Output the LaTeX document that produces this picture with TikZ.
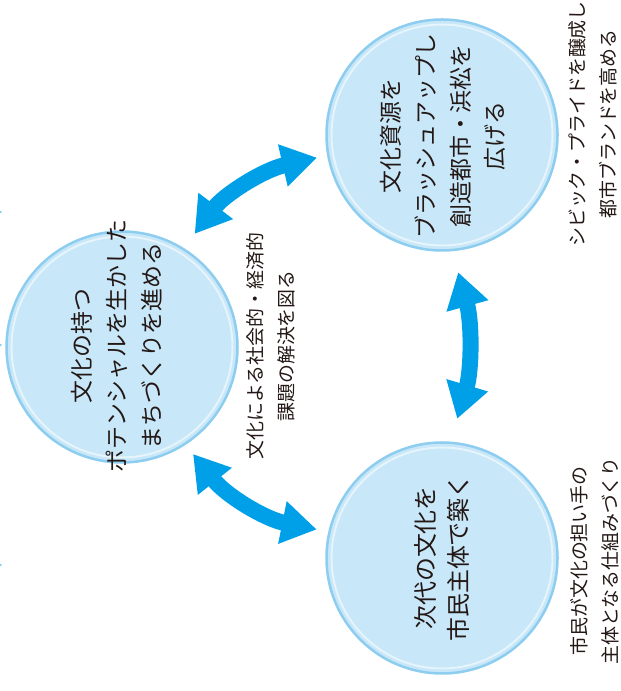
\documentclass[tikz,border=0pt]{standalone}
\usepackage{fontspec}
\setmainfont{Noto Sans CJK JP}
\usetikzlibrary{arrows.meta}
\definecolor{arrowblue}{HTML}{00A0E9}
\definecolor{bubblefill}{HTML}{C8E7F8}
\definecolor{bubbleedge}{HTML}{8CCDF0}
\definecolor{bubblering}{HTML}{E6F4FC}
\definecolor{txt}{HTML}{231815}
\begin{document}
\begin{tikzpicture}[x=1bp,y=1bp,
 bubble/.style={circle, minimum size=231bp, inner sep=0pt, outer sep=0pt, fill=bubblefill, draw=bubbleedge, line width=2.5bp},
 bubtext/.style={rotate=90, align=center, text=txt, inner sep=0pt, font=\fontsize{23}{35}\selectfont},
 sidetext/.style={rotate=90, align=center, text=txt, inner sep=0pt, font=\fontsize{19}{31}\selectfont},
 twoway/.style={arrowblue, line width=16bp, {Triangle[width=41bp,length=35bp]}-{Triangle[width=41bp,length=35bp]}},
 speck/.style={fill=arrowblue!50}
]
\useasboundingbox (0,0) rectangle (621,691);
\node[bubble] (L) at (122,344) {};
\node[bubble] (TR) at (442,556) {};
\node[bubble] (BR) at (442,133) {};
\foreach \c in {L,TR,BR} \draw[bubblering, line width=2bp] (\c.center) circle[radius=110.5];

\node[bubtext] (Lt) at (117,345) {文化の持つ\\ポテンシャルを生かした\\まちづくりを進める};
\node[bubtext] (TRt) at (443,555) {文化資源を\\ブラッシュアップし\\創造都市・浜松を\\広げる};
\node[bubtext, font=\fontsize{24}{33}\selectfont] (BRt) at (442,133) {次代の文化を\\市民主体で築く};

\node[sidetext] (Mt) at (271,345) {文化による社会的・経済的\\課題の解決を図る};
\node[sidetext] (TRs) at (593,567) {シビック・プライドを醸成し\\都市ブランドを高める};
\node[sidetext] (BRs) at (595,130) {市民が文化の担い手の\\主体となる仕組みづくり};

\draw[twoway, shorten <=19bp, shorten >=11.6bp] (L.58.7) to[bend left=20] (TR.190.4);
\draw[twoway, shorten <=13bp, shorten >=13bp] (L.-57) to[bend right=20] (BR.167.4);
\draw[twoway, shorten <=23bp, shorten >=25bp] (TR.-85.9) to[bend left=16] (BR.86.7);

\fill[speck] (0.6,479) circle[radius=1.2];
\fill[speck] (0.6,346) circle[radius=1.2];
\fill[speck] (0.6,126) circle[radius=1.2];
\end{tikzpicture}
\end{document}
